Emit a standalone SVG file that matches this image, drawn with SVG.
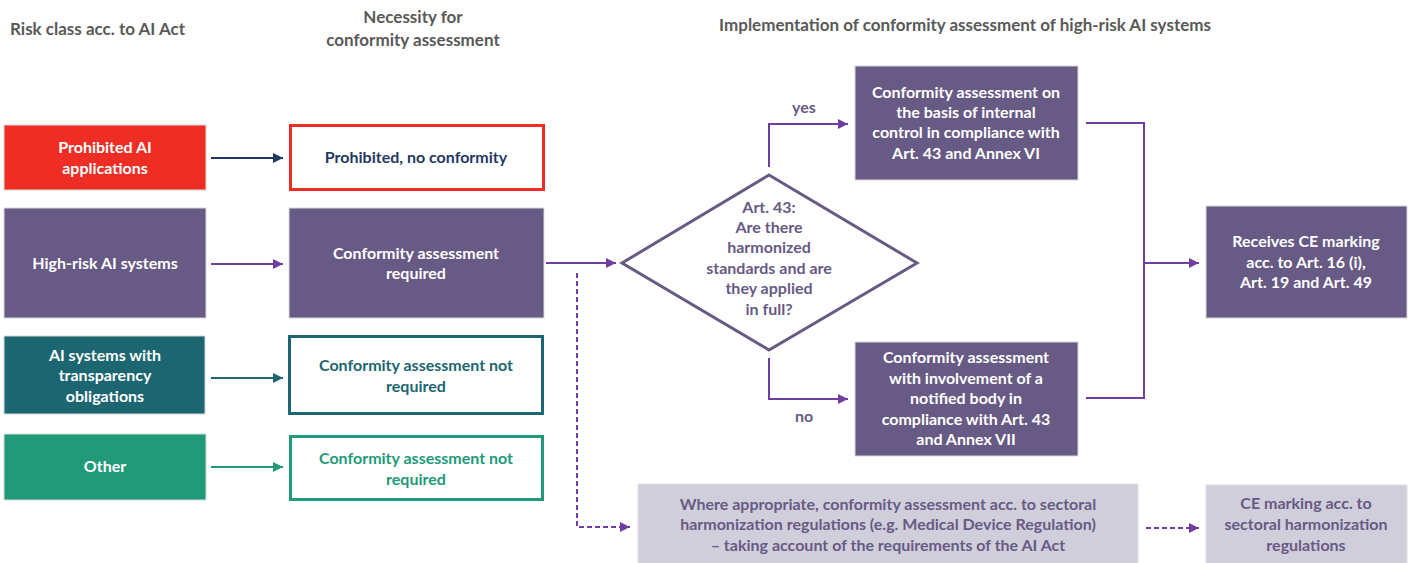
<svg xmlns="http://www.w3.org/2000/svg" width="1412" height="563" viewBox="0 0 1412 563">
  <defs>
    <style>
      text { font-family: Lato, "Open Sans", "Liberation Sans", sans-serif; font-weight: bold; font-size: 16px; text-anchor: middle; }
      .hdr { fill: #595959; font-size: 17px; }
      .wt { fill: #ffffff; }
      .pu { fill: #675A84; }
      .navy { fill: #1F3864; }
      .teal { fill: #1B6670; }
      .green { fill: #229A79; }
      .con { fill: none; stroke-width: 2; }
      .c-navy { stroke: #1F3864; }
      .c-pu { stroke: #6E3FA0; }
      .c-teal { stroke: #1B6670; }
      .c-green { stroke: #229A79; }
      .dash { stroke-dasharray: 5 3; }
    </style>
    <marker id="ah-navy" viewBox="0 0 10 10" refX="10" refY="5" markerWidth="5" markerHeight="5" orient="auto" markerUnits="strokeWidth"><path d="M0,0 L10,5 L0,10 z" fill="#1F3864"/></marker>
    <marker id="ah-pu" viewBox="0 0 10 10" refX="10" refY="5" markerWidth="5" markerHeight="5" orient="auto" markerUnits="strokeWidth"><path d="M0,0 L10,5 L0,10 z" fill="#6E3FA0"/></marker>
    <marker id="ah-teal" viewBox="0 0 10 10" refX="10" refY="5" markerWidth="5" markerHeight="5" orient="auto" markerUnits="strokeWidth"><path d="M0,0 L10,5 L0,10 z" fill="#1B6670"/></marker>
    <marker id="ah-green" viewBox="0 0 10 10" refX="10" refY="5" markerWidth="5" markerHeight="5" orient="auto" markerUnits="strokeWidth"><path d="M0,0 L10,5 L0,10 z" fill="#229A79"/></marker>
  </defs>

  <rect width="1412" height="563" fill="#ffffff"/>

  <!-- column headers -->
  <g id="headers">
    <text class="hdr" x="10" y="35" style="text-anchor:start">Risk class acc. to AI Act</text>
    <text class="hdr" x="413" y="23">Necessity for</text>
    <text class="hdr" x="413" y="46">conformity assessment</text>
    <text class="hdr" x="965" y="31">Implementation of conformity assessment of high-risk AI systems</text>
  </g>

  <!-- risk classes -->
  <g id="prohibited-ai">
    <rect x="4" y="125" width="202" height="65" fill="#EE2D24" stroke="#d9d9d9" stroke-width="1"/>
    <text class="wt" x="105" y="153">Prohibited AI</text>
    <text class="wt" x="105" y="174">applications</text>
  </g>
  <g id="high-risk-ai">
    <rect x="4" y="208" width="202" height="110" fill="#675A84" stroke="#d9d9d9" stroke-width="1"/>
    <text class="wt" x="105" y="269">High-risk AI systems</text>
  </g>
  <g id="transparency-ai">
    <rect x="4" y="336" width="201" height="78" fill="#1B6670" stroke="#d9d9d9" stroke-width="1"/>
    <text class="wt" x="105" y="361">AI systems with</text>
    <text class="wt" x="105" y="381">transparency</text>
    <text class="wt" x="105" y="402">obligations</text>
  </g>
  <g id="other-ai">
    <rect x="4" y="434" width="202" height="66" fill="#229A79" stroke="#d9d9d9" stroke-width="1"/>
    <text class="wt" x="105" y="472">Other</text>
  </g>

  <!-- necessity column -->
  <g id="prohibited-result">
    <rect x="290.5" y="125.5" width="253" height="64" fill="#ffffff" stroke="#EE2D24" stroke-width="3"/>
    <text class="navy" x="416" y="163">Prohibited, no conformity</text>
  </g>
  <g id="assessment-required">
    <rect x="289" y="208" width="255" height="110" fill="#675A84" stroke="#d9d9d9" stroke-width="1"/>
    <text class="wt" x="416" y="259">Conformity assessment</text>
    <text class="wt" x="416" y="279">required</text>
  </g>
  <g id="not-required-transparency">
    <rect x="289.5" y="336.5" width="253" height="77" fill="#ffffff" stroke="#1B6670" stroke-width="3"/>
    <text class="teal" x="416" y="371">Conformity assessment not</text>
    <text class="teal" x="416" y="392">required</text>
  </g>
  <g id="not-required-other">
    <rect x="290.5" y="436.5" width="252" height="63" fill="#ffffff" stroke="#229A79" stroke-width="3"/>
    <text class="green" x="416" y="464">Conformity assessment not</text>
    <text class="green" x="416" y="485">required</text>
  </g>

  <!-- decision -->
  <g id="decision">
    <polygon points="769,175 917,263 769,350 622,263" fill="#ffffff" stroke="#675A84" stroke-width="3" stroke-linejoin="miter"/>
    <text class="pu" x="769" y="213">Art. 43:</text>
    <text class="pu" x="769" y="233">Are there</text>
    <text class="pu" x="769" y="253">harmonized</text>
    <text class="pu" x="769" y="274">standards and are</text>
    <text class="pu" x="769" y="294">they applied</text>
    <text class="pu" x="769" y="315">in full?</text>
  </g>

  <!-- assessment routes -->
  <g id="internal-control">
    <rect x="855" y="66" width="223" height="114" fill="#675A84" stroke="#d9d9d9" stroke-width="1"/>
    <text class="wt" x="966" y="98">Conformity assessment on</text>
    <text class="wt" x="966" y="118">the basis of internal</text>
    <text class="wt" x="966" y="138">control in compliance with</text>
    <text class="wt" x="966" y="159">Art. 43 and Annex VI</text>
  </g>
  <g id="notified-body">
    <rect x="855" y="342" width="223" height="114" fill="#675A84" stroke="#d9d9d9" stroke-width="1"/>
    <text class="wt" x="966" y="363">Conformity assessment</text>
    <text class="wt" x="966" y="384">with involvement of a</text>
    <text class="wt" x="966" y="404">notified body in</text>
    <text class="wt" x="966" y="425">compliance with Art. 43</text>
    <text class="wt" x="966" y="445">and Annex VII</text>
  </g>
  <g id="ce-marking">
    <rect x="1206" y="206" width="201" height="112" fill="#675A84" stroke="#d9d9d9" stroke-width="1"/>
    <text class="wt" x="1306" y="247">Receives CE marking</text>
    <text class="wt" x="1306" y="268">acc. to Art. 16 (i),</text>
    <text class="wt" x="1306" y="288">Art. 19 and Art. 49</text>
  </g>

  <!-- sectoral regulations -->
  <g id="sectoral-assessment">
    <rect x="638" y="484" width="500" height="80" fill="#D0CEDB" stroke="#e0e0e0" stroke-width="1"/>
    <text class="pu" x="888" y="510">Where appropriate, conformity assessment acc. to sectoral</text>
    <text class="pu" x="888" y="530">harmonization regulations (e.g. Medical Device Regulation)</text>
    <text class="pu" x="888" y="551">– taking account of the requirements of the AI Act</text>
  </g>
  <g id="sectoral-ce">
    <rect x="1206" y="485" width="201" height="79" fill="#D0CEDB" stroke="#e0e0e0" stroke-width="1"/>
    <text class="pu" x="1306" y="509">CE marking acc. to</text>
    <text class="pu" x="1306" y="530">sectoral harmonization</text>
    <text class="pu" x="1306" y="551">regulations</text>
  </g>

  <!-- branch labels -->
  <g id="branch-labels">
    <text class="pu" x="804" y="113">yes</text>
    <text class="pu" x="804" y="422">no</text>
  </g>

  <!-- connectors -->
  <g id="connectors">
    <line class="con c-navy" x1="211" y1="158" x2="283" y2="158" marker-end="url(#ah-navy)"/>
    <line class="con c-pu" x1="211" y1="264" x2="283" y2="264" marker-end="url(#ah-pu)"/>
    <line class="con c-teal" x1="211" y1="378" x2="283" y2="378" marker-end="url(#ah-teal)"/>
    <line class="con c-green" x1="211" y1="467" x2="283" y2="467" marker-end="url(#ah-green)"/>

    <line class="con c-pu" x1="546" y1="263" x2="616" y2="263" marker-end="url(#ah-pu)"/>
    <polyline class="con c-pu" points="769,167 769,124 848,124" marker-end="url(#ah-pu)"/>
    <polyline class="con c-pu" points="769,358 769,399 848,399" marker-end="url(#ah-pu)"/>

    <polyline class="con c-pu" points="1086,123 1144,123 1144,398 1086,398"/>
    <line class="con c-pu" x1="1144" y1="263" x2="1199" y2="263" marker-end="url(#ah-pu)"/>

    <polyline class="con c-pu dash" points="577,273 577,527 630,527" marker-end="url(#ah-pu)"/>
    <line class="con c-pu dash" x1="1146" y1="528" x2="1199" y2="528" marker-end="url(#ah-pu)"/>
  </g>
</svg>
